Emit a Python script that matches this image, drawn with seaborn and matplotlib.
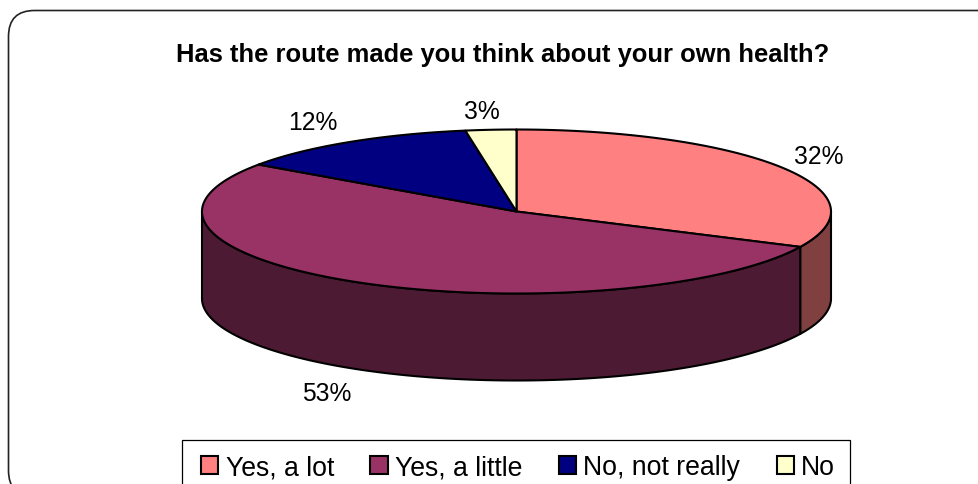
import numpy as np
import matplotlib
matplotlib.use("Agg")
import matplotlib.pyplot as plt
from matplotlib.patches import Polygon, FancyBboxPatch, Patch, Rectangle
import seaborn as sns

title = "Has the route made you think about your own health?"
categories = ["Yes, a lot", "Yes, a little", "No, not really", "No"]
# slice sizes as read from the drawn wedges; the printed labels are rounded by the source
percent = [32.1, 52.6, 12.7, 2.6]
pct_labels = ["32%", "53%", "12%", "3%"]
top_colors = ["#FF8080", "#993366", "#000080", "#FFFFCC"]
side_colors = ["#804040", "#4D1A33", "#000040", "#808066"]

sns.set_theme(style="white")
plt.rcParams["font.family"] = ["Liberation Sans", "DejaVu Sans"]

fig, ax = plt.subplots(figsize=(9.79, 4.85), dpi=100)
ax.set_position([0, 0, 1, 1])
ax.set_xlim(0, 979)
ax.set_ylim(485, 0)
ax.axis("off")

ax.add_patch(FancyBboxPatch((8.5, 11.5), 1000, 486,
                            boxstyle="round,pad=0,rounding_size=26",
                            fc="white", ec="#222222", lw=1.2, zorder=0))

cx, cy, rx, ry, depth = 516.5, 212.5, 314.5, 82, 87
LW = 1.5


def rim(t):
    return np.column_stack([cx + rx * np.sin(t), cy - ry * np.cos(t)])


edges = np.concatenate([[0], np.cumsum(percent)]) / np.sum(percent) * 2 * np.pi

# side walls: only the front half of the disc (pi/2 .. 3pi/2) is visible
for a, b, col in zip(edges[:-1], edges[1:], side_colors):
    lo, hi = max(a, np.pi / 2), min(b, 3 * np.pi / 2)
    if lo < hi:
        upper = rim(np.linspace(lo, hi, 200))
        lower = (upper + [0, depth])[::-1]
        ax.add_patch(Polygon(np.vstack([upper, lower]), closed=True, fc=col,
                             ec="black", lw=LW, joinstyle="round", zorder=2))

# top faces
for a, b, col in zip(edges[:-1], edges[1:], top_colors):
    arc = rim(np.linspace(a, b, 300))
    ax.add_patch(Polygon(np.vstack([[cx, cy], arc]), closed=True, fc=col,
                         ec="black", lw=LW, joinstyle="round", zorder=3))

label_xy = [(819, 157), (327, 394), (313, 123), (482, 112)]
for (x, y), s in zip(label_xy, pct_labels):
    ax.text(x, y, s, ha="center", va="center", fontsize=17.7, color="black")

ax.text(502.5, 55, title, ha="center", va="center", fontsize=18.4,
        fontweight="bold", color="black")

# legend frame runs off the bottom of the canvas, as in the reference
ax.add_patch(Rectangle((182.5, 441), 667.5, 60, fc="white", ec="black",
                       lw=0.9, zorder=4))
handles = [Patch(fc=c, ec="black", lw=LW) for c in top_colors]
leg = ax.legend(handles, categories, ncols=4, loc="upper left",
                bbox_to_anchor=(201, 455.5), bbox_transform=ax.transData,
                fontsize=19.2, frameon=False, handlelength=0.64,
                handleheight=0.64, handletextpad=0.28, columnspacing=1.37,
                borderpad=0, borderaxespad=0, labelcolor="black")
leg.set_zorder(5)

fig.savefig("out.png", dpi=100)
